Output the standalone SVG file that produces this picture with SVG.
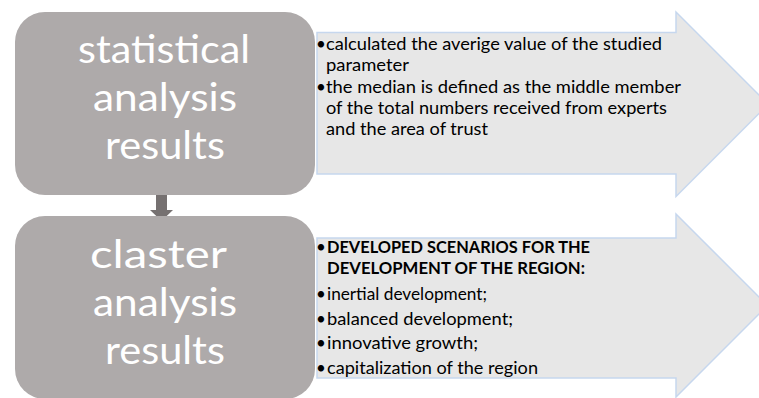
<svg xmlns="http://www.w3.org/2000/svg" width="759" height="398" viewBox="0 0 759 398">
<style>
.box{fill:#aeaaaa}
.panel{fill:#e7e7e7;stroke:#c6d7ee;stroke-width:1.5}
.big{font-family:Lato,"Open Sans","Liberation Sans",sans-serif;font-size:39px;fill:#ffffff;text-anchor:middle}
.t{font-family:Lato,"Open Sans","Liberation Sans",sans-serif;font-size:17px;fill:#000000}
.b{font-weight:bold}
.conn{fill:#767171}
</style>
<rect width="759" height="398" fill="#ffffff"/>
<g id="stat-details">
<path class="panel" d="M317,32.5 H676 V12 L768.25,104.25 L676,196.5 V174 H317 Z"/>
<text class="t" x="316" y="50">•</text>
<text class="t" x="326" y="50" textLength="336" lengthAdjust="spacingAndGlyphs">calculated the averige value of the studied</text>
<text class="t" x="326" y="71" textLength="83" lengthAdjust="spacingAndGlyphs">parameter</text>
<text class="t" x="316" y="93">•</text>
<text class="t" x="326" y="93" textLength="355" lengthAdjust="spacingAndGlyphs">the median is defined as the middle member</text>
<text class="t" x="326" y="114" textLength="341" lengthAdjust="spacingAndGlyphs">of the total numbers received from experts</text>
<text class="t" x="326" y="135" textLength="162" lengthAdjust="spacingAndGlyphs">and the area of trust</text>
</g>
<g id="claster-details">
<path class="panel" d="M317,238 H676 V214 L767.5,305.5 L676,397 V378 H317 Z"/>
<text class="t" x="316" y="253">•</text>
<text class="t b" x="327" y="253" textLength="263" lengthAdjust="spacingAndGlyphs">DEVELOPED SCENARIOS FOR THE</text>
<text class="t b" x="327" y="274" textLength="258" lengthAdjust="spacingAndGlyphs">DEVELOPMENT OF THE REGION:</text>
<text class="t" x="316" y="300">•</text>
<text class="t" x="327" y="300" textLength="160" lengthAdjust="spacingAndGlyphs">inertial development;</text>
<text class="t" x="316" y="325">•</text>
<text class="t" x="327" y="325" textLength="186" lengthAdjust="spacingAndGlyphs">balanced development;</text>
<text class="t" x="316" y="349">•</text>
<text class="t" x="327" y="349" textLength="151" lengthAdjust="spacingAndGlyphs">innovative growth;</text>
<text class="t" x="316" y="374">•</text>
<text class="t" x="327" y="374" textLength="211" lengthAdjust="spacingAndGlyphs">capitalization of the region</text>
</g>
<g id="connectors">
<path class="conn" d="M156,194 H167 V210 H173 L161.5,221 L150,210 H156 Z"/>
</g>
<g id="stat">
<rect class="box" x="15" y="12" width="300" height="183" rx="30" ry="30"/>
<text class="big" x="164" y="63" textLength="172" lengthAdjust="spacingAndGlyphs">statistical</text>
<text class="big" x="165" y="111" textLength="144" lengthAdjust="spacingAndGlyphs">analysis</text>
<text class="big" x="165" y="159" textLength="120" lengthAdjust="spacingAndGlyphs">results</text>
</g>
<g id="claster">
<rect class="box" x="15" y="216" width="300" height="183" rx="30" ry="30"/>
<text class="big" x="158.5" y="268" textLength="137" lengthAdjust="spacingAndGlyphs">claster</text>
<text class="big" x="165" y="316" textLength="144" lengthAdjust="spacingAndGlyphs">analysis</text>
<text class="big" x="165" y="364" textLength="120" lengthAdjust="spacingAndGlyphs">results</text>
</g>
</svg>
